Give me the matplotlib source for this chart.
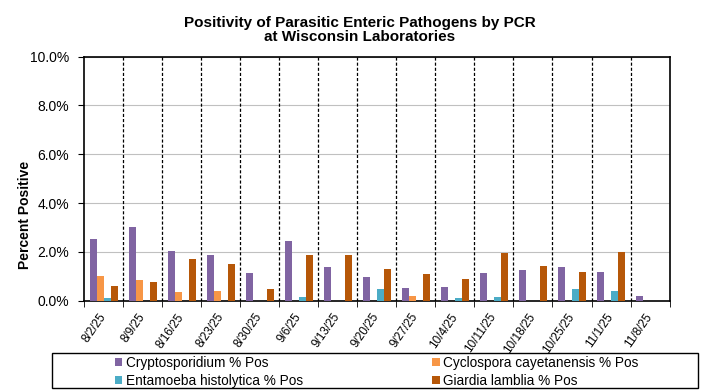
import numpy as np
import matplotlib.pyplot as plt
from matplotlib.patches import Rectangle

plt.rcParams['font.family'] = ['Liberation Sans', 'DejaVu Sans']

# Weekly positivity (%)
weeks = ["8/2/25", "8/9/25", "8/16/25", "8/23/25", "8/30/25", "9/6/25", "9/13/25",
         "9/20/25", "9/27/25", "10/4/25", "10/11/25", "10/18/25", "10/25/25",
         "11/1/25", "11/8/25"]
crypto = [2.51, 3.00, 2.05, 1.89, 1.15, 2.46, 1.36, 0.99, 0.53, 0.57, 1.15, 1.27, 1.36, 1.19, 0.21]
cyclo = [1.03, 0.86, 0.37, 0.41, 0, 0, 0, 0, 0.21, 0, 0, 0, 0, 0, 0]
entam = [0.12, 0, 0, 0, 0, 0.16, 0, 0.49, 0, 0.12, 0.16, 0, 0.49, 0.41, 0]
giardia = [0.62, 0.78, 1.72, 1.52, 0.49, 1.89, 1.89, 1.31, 1.11, 0.90, 1.97, 1.44, 1.19, 2.01, 0]

series = [
    ("Cryptosporidium % Pos", crypto, "#8064A2"),
    ("Cyclospora cayetanensis % Pos", cyclo, "#F79646"),
    ("Entamoeba histolytica % Pos", entam, "#4BACC6"),
    ("Giardia lamblia % Pos", giardia, "#B65708"),
]

fig = plt.figure(figsize=(7.04, 3.91), dpi=100)
ax = fig.add_axes([0.12, 0.231, 0.831, 0.624])

x = np.arange(len(weeks))
w = 0.18
handles = {}
for i, (name, vals, col) in enumerate(series):
    handles[name] = ax.bar(x + (i - 1.5) * w, vals, width=w, color=col, label=name, zorder=3)

ax.set_xlim(-0.5, len(weeks) - 0.5)
ax.set_ylim(0, 10)
ax.set_yticks(np.arange(0, 10.1, 2))
ax.set_yticklabels([f"{v:.1f}%" for v in np.arange(0, 10.1, 2)], fontsize=10)
ax.yaxis.grid(True, color="#c0c0c0", linewidth=0.8, zorder=0)

# dashed week separators
for b in np.arange(0.5, len(weeks) - 1, 1):
    ax.axvline(b, color="black", linestyle=(0, (2.5, 1.6)), linewidth=0.9, zorder=2)

ax.set_xticks(x)
ax.set_xticklabels(weeks, rotation=55, ha="right", va="center", rotation_mode="anchor", fontsize=8.5)
ax.tick_params(axis="x", which="major", length=0, pad=10)
ax.set_xticks(np.arange(-0.5, len(weeks), 1), minor=True)
ax.tick_params(axis="x", which="minor", length=4, direction="out", color="black")
ax.tick_params(axis="y", length=4, direction="out", pad=7)

for s in ax.spines.values():
    s.set_color("black")
    s.set_linewidth(1.2)

fig.text(0.511, 1 - 30 / 391, "Positivity of Parasitic Enteric Pathogens by PCR\nat Wisconsin Laboratories",
         ha="center", va="center", fontsize=11, fontweight="bold", linespacing=1.02)
fig.text(0.036, 1 - 215 / 391, "Percent Positive", rotation=90, ha="center", va="center",
         fontsize=10, fontweight="bold")

# legend: Excel style box with two columns
fig.add_artist(Rectangle((52 / 704, 3 / 391), 646 / 704, 35 / 391, transform=fig.transFigure,
                         fill=False, edgecolor="black", linewidth=1.0))
order = ["Cryptosporidium % Pos", "Entamoeba histolytica % Pos",
         "Cyclospora cayetanensis % Pos", "Giardia lamblia % Pos"]
fig.legend([handles[n] for n in order], order, ncol=2, loc="center left",
           bbox_to_anchor=(108 / 704, 19 / 391), frameon=False, fontsize=9.8,
           handlelength=0.55, handleheight=0.55, handletextpad=0.25,
           columnspacing=9.5, labelspacing=0.3, borderpad=0)

fig.savefig("out.png", dpi=100)
